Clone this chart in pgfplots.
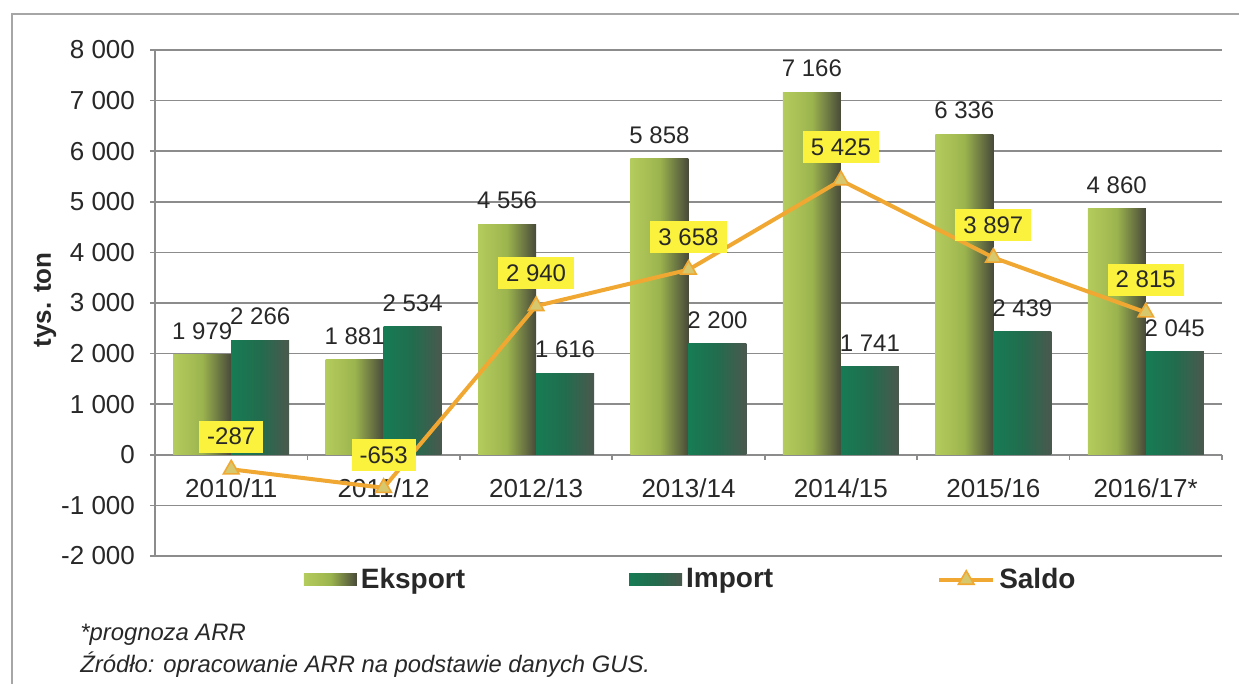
\documentclass[border=0pt]{standalone}
\usepackage{pgfplots}
\pgfplotsset{compat=1.18}
\usepackage{fontspec}
\setmainfont{Liberation Sans}
\definecolor{ekL}{RGB}{180,204,92}
\definecolor{ekM}{RGB}{156,180,78}
\definecolor{ekR}{RGB}{72,74,58}
\definecolor{imL}{RGB}{22,124,84}
\definecolor{imM}{RGB}{34,108,78}
\definecolor{imR}{RGB}{74,88,78}
\definecolor{saldo}{RGB}{240,168,50}
\definecolor{markc}{RGB}{215,200,110}
\definecolor{lbl}{RGB}{250,242,60}
\definecolor{gridc}{RGB}{140,140,140}
\definecolor{txt}{RGB}{40,40,40}
\pgfplotsset{
  ekbar/.style={ybar, bar width=29pt, bar shift=-14.5pt, draw=none,
    left color=ekL, right color=ekR, middle color=ekM,
    nodes near coords,
    every node near coord/.append style={font=\fontsize{12}{14}\selectfont, text=txt, anchor=south, yshift=4pt, xshift=-14.5pt},
    legend image code/.code={\fill[left color=ekL, right color=ekR, middle color=ekM] (0pt,-3pt) rectangle (26.5pt,3pt);}},
  imbar/.style={ybar, bar width=29pt, bar shift=14.5pt, draw=none,
    left color=imL, right color=imR, middle color=imM,
    nodes near coords,
    every node near coord/.append style={font=\fontsize{12}{14}\selectfont, text=txt, anchor=south, yshift=4pt, xshift=14.5pt},
    legend image code/.code={\fill[left color=imL, right color=imR, middle color=imM] (0pt,-3pt) rectangle (26.5pt,3pt);}},
}
\begin{document}
\begin{tikzpicture}
\useasboundingbox (-77.5pt,-64pt) rectangle (542pt,278pt);
\draw[gray!70, line width=0.8pt] (-71.5pt,-64pt) -- (-71.5pt,271pt) -- (542pt,271pt);
\begin{axis}[
  scale only axis, width=533.5pt, height=253pt,
  xmin=-0.5, xmax=6.5, ymin=-2000, ymax=8000,
  axis x line=middle, axis y line=left,
  axis line style={-, gridc, line width=0.8pt},
  ytick={-2000,-1000,...,8000},
  ymajorgrids, grid style={gridc, line width=0.8pt},
  xtick={0,...,6},
  xticklabels={2010/11,2011/12,2012/13,2013/14,2014/15,2015/16,2016/17*},
  major x tick style={draw=none},
  minor xtick={-0.5,0.5,...,6.5},
  minor x tick style={gridc, line width=0.8pt},
  minor tick length=2.5pt, major tick length=2.5pt,
  xtick align=outside, ytick align=outside,
  y tick style={gridc, line width=0.8pt},
  /pgf/number format/.cd, 1000 sep={\ }, assume math mode=true, /pgfplots/.cd,
  ticklabel style={font=\fontsize{13}{15}\selectfont, text=txt},
  yticklabel style={xshift=-4pt},
  xticklabel style={yshift=-6pt},
  ylabel={tys. ton},
  ylabel style={at={(axis description cs:-0.103,0.506)}, anchor=center, font=\bfseries\fontsize{13}{15}\selectfont, text=txt},
  legend columns=3,
  legend style={at={(axis description cs:0.503,-0.047)}, anchor=center, draw=none, fill=none,
    font=\bfseries\fontsize{14}{16}\selectfont, text=txt,
    nodes={inner xsep=2pt},
    /tikz/every even column/.append style={column sep=80pt}},
  clip=false,
]
% Eksport
\addplot[ekbar] coordinates {(0,1979)};
\addplot[ekbar, forget plot] coordinates {(1,1881)};
\addplot[ekbar, forget plot] coordinates {(2,4556)};
\addplot[ekbar, forget plot] coordinates {(3,5858)};
\addplot[ekbar, forget plot] coordinates {(4,7166)};
\addplot[ekbar, forget plot] coordinates {(5,6336)};
\addplot[ekbar, forget plot] coordinates {(6,4860)};
% Import
\addplot[imbar] coordinates {(0,2266)};
\addplot[imbar, forget plot] coordinates {(1,2534)};
\addplot[imbar, forget plot] coordinates {(2,1616)};
\addplot[imbar, forget plot] coordinates {(3,2200)};
\addplot[imbar, forget plot] coordinates {(4,1741)};
\addplot[imbar, forget plot] coordinates {(5,2439)};
\addplot[imbar, forget plot] coordinates {(6,2045)};
% Saldo
\addplot[saldo, line width=2pt, mark=triangle*, mark size=4.5pt,
  mark options={fill=markc, draw=saldo, line width=0.8pt},
  nodes near coords,
  every node near coord/.append style={font=\fontsize{12}{14}\selectfont, text=txt, fill=lbl,
     anchor=south, yshift=8pt, inner xsep=4pt, minimum height=16pt},
  legend image code/.code={\draw[saldo, line width=2pt] (0pt,0pt) -- (27pt,0pt);
     \draw[fill=markc, draw=saldo, line width=0.8pt] plot[mark=triangle*, mark size=4.5pt] coordinates {(13.5pt,0pt)};}]
  coordinates {(0,-287) (1,-653) (2,2940) (3,3658) (4,5425) (5,3897) (6,2815)};
\legend{Eksport, Import, Saldo}
\end{axis}
\node[anchor=west, font=\itshape\fontsize{11.9}{14}\selectfont, text=txt, inner sep=0pt] at (-37.5pt,-39.5pt) {*prognoza ARR};
\node[anchor=west, font=\itshape\fontsize{11.9}{14}\selectfont, text=txt, inner sep=0pt] at (-37.5pt,-54.5pt) {Źródło: opracowanie ARR na podstawie danych GUS.};
\end{tikzpicture}
\end{document}
